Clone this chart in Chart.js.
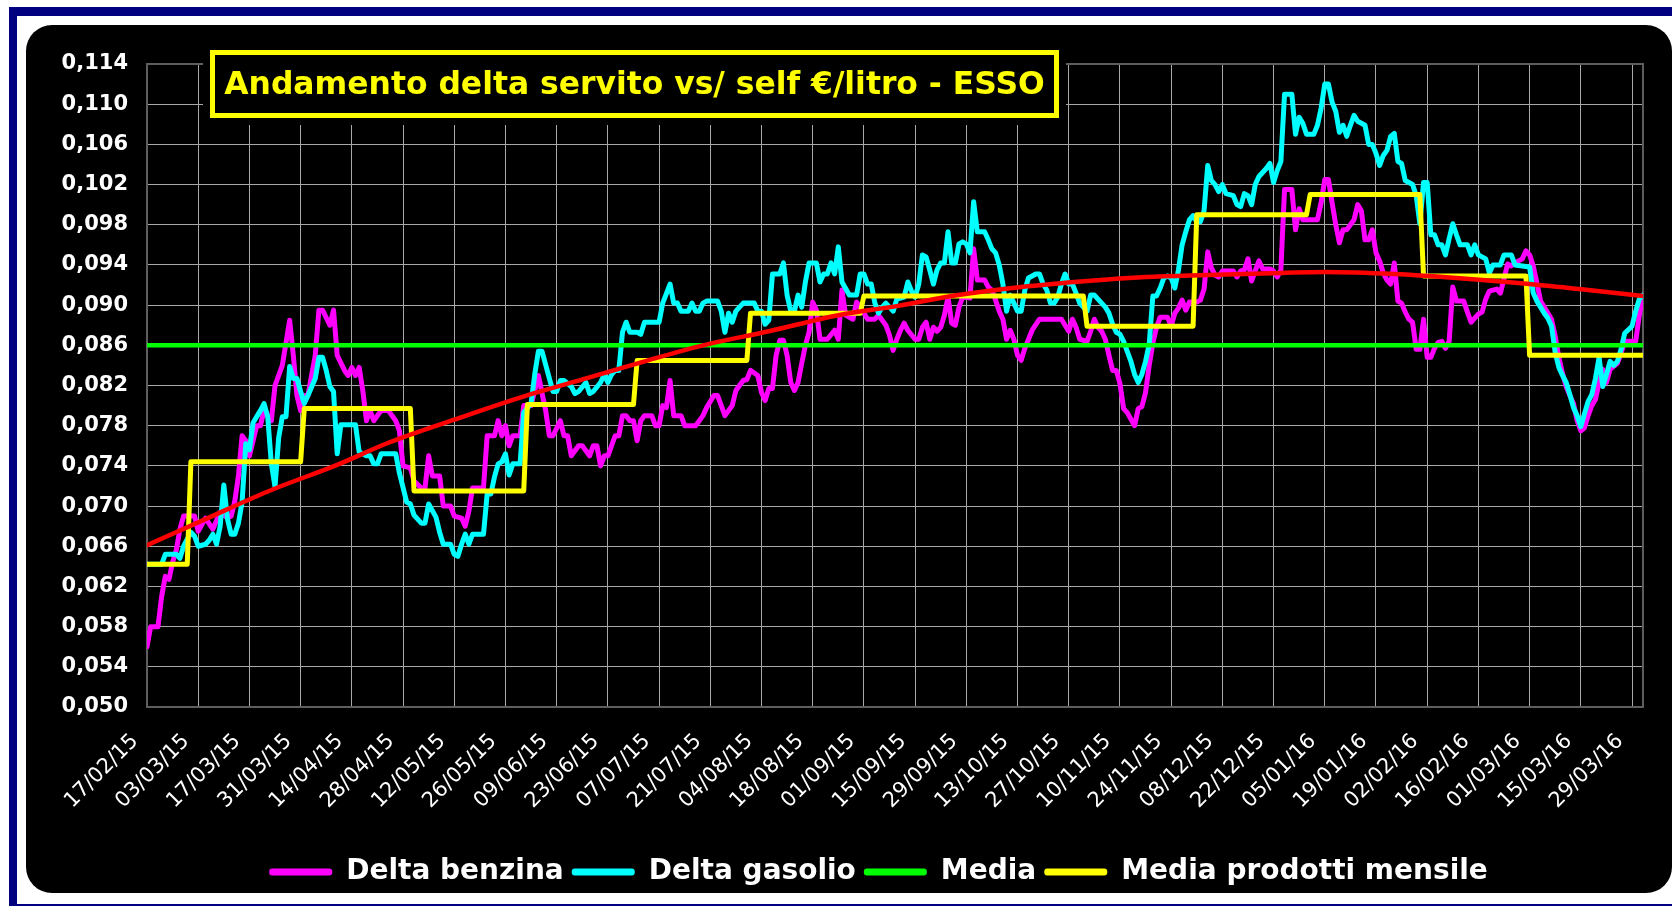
<!DOCTYPE html>
<html lang="it">
<head>
<meta charset="utf-8">
<title>Andamento delta servito vs/ self - ESSO</title>
<script src="https://cdn.jsdelivr.net/npm/chart.js@4.4.1/dist/chart.umd.min.js"></script>
<style>
  html, body { margin: 0; padding: 0; background: #ffffff; }
  body { width: 1672px; height: 906px; overflow: hidden; position: relative; }
  #cornice { position: absolute; left: 9px; top: 7px; width: 1720px; height: 905px; box-sizing: border-box; border: 8px solid #000080; border-top-width: 9px; }
  #scheda { position: absolute; left: 26px; top: 25px; width: 1646px; height: 868px; background: #000; border-radius: 26px; overflow: hidden; }
  #scheda canvas { display: block; }
</style>
</head>
<body>
<div id="cornice"></div>
<div id="scheda"><canvas id="graficoDelta" width="1646" height="868"></canvas></div>
<script>
const titolo = 'Andamento delta servito vs/ self €/litro - ESSO';

// giorni contati dal 17/02/15, un'etichetta ogni 14 giorni
const etichetteDate = [
    '17/02/15', '03/03/15', '17/03/15', '31/03/15', '14/04/15', '28/04/15', '12/05/15', '26/05/15',
    '09/06/15', '23/06/15', '07/07/15', '21/07/15', '04/08/15', '18/08/15', '01/09/15', '15/09/15',
    '29/09/15', '13/10/15', '27/10/15', '10/11/15', '24/11/15', '08/12/15', '22/12/15', '05/01/16',
    '19/01/16', '02/02/16', '16/02/16', '01/03/16', '15/03/16', '29/03/16'
];
const ultimoGiorno = 409;

// [giorno, €/litro]
const deltaBenzina = [
    [0,0.0560],[1,0.0580],[3,0.0580],[4,0.0610],[5,0.0630],[6,0.0627],[7,0.0644],[8,0.0656],[9,0.0677],[10,0.0690],
    [13,0.0690],[14,0.0675],[16,0.0688],[18,0.0677],[20,0.0694],[22,0.0688],[23,0.0690],[24,0.0705],[25,0.0730],[26,0.0770],
    [27,0.0765],[28,0.0750],[30,0.0780],[31,0.0780],[32,0.0795],[34,0.0785],[35,0.0820],[37,0.0840],[39,0.0885],[40,0.0850],
    [41,0.0810],[42,0.0795],[43,0.0810],[44,0.0810],[46,0.0850],[47,0.0895],[48,0.0895],[50,0.0880],[51,0.0895],[52,0.0850],
    [54,0.0835],[55,0.0830],[56,0.0838],[57,0.0830],[58,0.0838],[59,0.0815],[60,0.0785],[61,0.0795],[62,0.0785],[64,0.0795],
    [66,0.0795],[68,0.0785],[69,0.0775],[70,0.0740],[72,0.0738],[73,0.0725],[75,0.0718],[76,0.0718],[77,0.0750],[78,0.0730],
    [80,0.0730],[81,0.0700],[83,0.0700],[84,0.0690],[86,0.0688],[87,0.0680],[88,0.0695],[89,0.0718],[92,0.0718],[93,0.0770],
    [95,0.0770],[96,0.0785],[97,0.0770],[98,0.0780],[99,0.0760],[100,0.0770],[102,0.0770],[103,0.0800],[105,0.0800],[107,0.0830],
    [109,0.0795],[110,0.0770],[111,0.0770],[113,0.0785],[114,0.0770],[115,0.0770],[116,0.0750],[118,0.0760],[119,0.0760],[121,0.0750],
    [122,0.0760],[123,0.0760],[124,0.0740],[125,0.0750],[126,0.0750],[128,0.0770],[129,0.0770],[130,0.0790],[131,0.0790],[132,0.0785],
    [133,0.0785],[134,0.0765],[135,0.0785],[136,0.0790],[138,0.0790],[139,0.0780],[140,0.0780],[141,0.0800],[142,0.0798],[143,0.0825],
    [144,0.0790],[146,0.0790],[147,0.0780],[150,0.0780],[152,0.0790],[153,0.0798],[155,0.0810],[156,0.0810],[157,0.0800],[158,0.0790],
    [160,0.0800],[161,0.0815],[162,0.0820],[163,0.0825],[164,0.0826],[165,0.0835],[167,0.0830],[168,0.0813],[169,0.0805],[170,0.0817],
    [171,0.0817],[172,0.0850],[173,0.0865],[174,0.0865],[175,0.0850],[176,0.0823],[177,0.0815],[178,0.0823],[179,0.0842],[180,0.0860],
    [181,0.0873],[182,0.0903],[183,0.0895],[184,0.0866],[186,0.0866],[188,0.0875],[189,0.0866],[190,0.0915],[191,0.0890],[193,0.0886],
    [194,0.0903],[195,0.0898],[197,0.0886],[199,0.0886],[200,0.0890],[202,0.0880],[203,0.0870],[204,0.0855],[205,0.0866],[206,0.0875],
    [207,0.0882],[208,0.0875],[210,0.0866],[211,0.0866],[212,0.0878],[213,0.0883],[214,0.0866],[215,0.0878],[216,0.0874],[217,0.0878],
    [218,0.0890],[219,0.0908],[220,0.0882],[221,0.0880],[222,0.0898],[223,0.0908],[225,0.0907],[226,0.0956],[227,0.0925],[229,0.0925],
    [230,0.0918],[231,0.0915],[232,0.0905],[233,0.0894],[234,0.0886],[235,0.0866],[236,0.0875],[237,0.0866],[238,0.0850],[239,0.0845],
    [240,0.0857],[242,0.0875],[244,0.0886],[250,0.0886],[252,0.0874],[253,0.0886],[254,0.0878],[255,0.0866],[257,0.0864],[258,0.0874],
    [259,0.0886],[260,0.0878],[261,0.0874],[262,0.0866],[263,0.0850],[264,0.0835],[265,0.0835],[266,0.0822],[267,0.0797],[268,0.0793],
    [270,0.0780],[271,0.0797],[272,0.0799],[273,0.0813],[274,0.0840],[275,0.0862],[276,0.0878],[277,0.0888],[279,0.0888],[280,0.0879],
    [281,0.0892],[282,0.0897],[283,0.0905],[284,0.0895],[285,0.0903],[287,0.0903],[288,0.0905],[289,0.0916],[290,0.0953],[291,0.0937],
    [292,0.0930],[293,0.0928],[294,0.0934],[297,0.0934],[298,0.0928],[299,0.0934],[300,0.0935],[301,0.0946],[302,0.0924],[303,0.0934],
    [304,0.0944],[305,0.0936],[307,0.0936],[308,0.0934],[309,0.0928],[310,0.0935],[311,0.1015],[313,0.1015],[314,0.0975],[315,0.0996],
    [316,0.0985],[320,0.0985],[321,0.1002],[322,0.1025],[323,0.1025],[324,0.1002],[325,0.0980],[326,0.0962],[327,0.0975],[328,0.0975],
    [330,0.0985],[331,0.1000],[332,0.0994],[333,0.0965],[334,0.0965],[335,0.0975],[336,0.0952],[337,0.0944],[338,0.0932],[339,0.0925],
    [340,0.0921],[341,0.0942],[342,0.0904],[343,0.0902],[344,0.0893],[345,0.0886],[346,0.0883],[347,0.0856],[348,0.0856],[349,0.0886],
    [350,0.0848],[351,0.0848],[352,0.0857],[353,0.0863],[354,0.0864],[355,0.0857],[356,0.0864],[357,0.0918],[358,0.0904],[360,0.0904],
    [361,0.0893],[362,0.0883],[363,0.0887],[364,0.0891],[365,0.0893],[366,0.0906],[367,0.0914],[369,0.0916],[370,0.0912],[371,0.0926],
    [372,0.0941],[373,0.0939],[374,0.0942],[375,0.0944],[376,0.0946],[377,0.0954],[378,0.0950],[379,0.0939],[380,0.0922],[381,0.0904],
    [382,0.0898],[384,0.0886],[385,0.0869],[386,0.0848],[387,0.0832],[388,0.0819],[389,0.0810],[390,0.0802],[391,0.0785],[392,0.0775],
    [393,0.0778],[394,0.0790],[395,0.0800],[396,0.0806],[397,0.0823],[398,0.0836],[399,0.0823],[400,0.0836],[402,0.0842],[403,0.0852],
    [404,0.0864],[407,0.0864],[408,0.0890],[409,0.0910]
];

const deltaGasolio = [
    [0,0.0642],[4,0.0642],[5,0.0652],[8,0.0652],[9,0.0648],[10,0.0660],[12,0.0674],[13,0.0670],[14,0.0660],[16,0.0662],
    [17,0.0666],[18,0.0672],[19,0.0662],[20,0.0680],[21,0.0721],[22,0.0687],[23,0.0672],[24,0.0672],[25,0.0683],[26,0.0704],
    [27,0.0762],[28,0.0756],[29,0.0783],[30,0.0789],[31,0.0795],[32,0.0802],[33,0.0789],[34,0.0742],[35,0.0719],[36,0.0768],
    [37,0.0789],[38,0.0789],[39,0.0839],[40,0.0827],[41,0.0827],[42,0.0814],[43,0.0802],[44,0.0810],[46,0.0827],[47,0.0848],
    [48,0.0848],[49,0.0835],[50,0.0819],[51,0.0814],[52,0.0752],[53,0.0781],[57,0.0781],[58,0.0754],[60,0.0750],[61,0.0750],
    [62,0.0742],[63,0.0742],[64,0.0752],[68,0.0752],[69,0.0733],[71,0.0704],[72,0.0702],[73,0.0691],[75,0.0683],[76,0.0683],
    [77,0.0702],[79,0.0689],[80,0.0674],[81,0.0662],[83,0.0662],[84,0.0652],[85,0.0650],[86,0.0662],[87,0.0672],[88,0.0662],
    [89,0.0672],[92,0.0672],[93,0.0712],[94,0.0712],[95,0.0729],[96,0.0742],[97,0.0744],[98,0.0752],[99,0.0731],[100,0.0742],
    [102,0.0742],[103,0.0793],[105,0.0802],[106,0.0831],[107,0.0854],[108,0.0854],[110,0.0827],[111,0.0814],[112,0.0814],[113,0.0825],
    [114,0.0825],[116,0.0819],[117,0.0812],[118,0.0814],[120,0.0823],[121,0.0812],[122,0.0814],[124,0.0823],[125,0.0831],[126,0.0823],
    [127,0.0831],[128,0.0835],[129,0.0835],[130,0.0873],[131,0.0883],[132,0.0873],[134,0.0873],[135,0.0871],[136,0.0883],[140,0.0883],
    [141,0.0902],[143,0.0921],[144,0.0902],[145,0.0902],[146,0.0894],[148,0.0894],[149,0.0902],[150,0.0894],[151,0.0894],[152,0.0902],
    [153,0.0904],[156,0.0904],[157,0.0894],[158,0.0873],[159,0.0892],[160,0.0883],[161,0.0894],[163,0.0902],[166,0.0902],[167,0.0894],
    [168,0.0894],[169,0.0881],[170,0.0885],[171,0.0931],[173,0.0931],[174,0.0942],[175,0.0910],[176,0.0894],[177,0.0894],[178,0.0910],
    [179,0.0898],[180,0.0923],[181,0.0942],[183,0.0942],[184,0.0923],[185,0.0931],[186,0.0931],[187,0.0942],[188,0.0931],[189,0.0958],
    [190,0.0923],[192,0.0910],[194,0.0910],[195,0.0931],[196,0.0931],[197,0.0921],[198,0.0921],[199,0.0902],[200,0.0892],[201,0.0898],
    [202,0.0902],[203,0.0898],[204,0.0894],[205,0.0906],[207,0.0908],[208,0.0923],[209,0.0914],[210,0.0908],[211,0.0921],[212,0.0950],
    [213,0.0948],[214,0.0935],[215,0.0921],[216,0.0935],[217,0.0942],[218,0.0942],[219,0.0973],[220,0.0942],[221,0.0942],[222,0.0961],
    [223,0.0963],[224,0.0961],[225,0.0952],[226,0.1003],[227,0.0973],[229,0.0973],[230,0.0965],[231,0.0956],[232,0.0952],[233,0.0940],
    [234,0.0921],[235,0.0894],[236,0.0910],[237,0.0902],[238,0.0894],[239,0.0894],[240,0.0915],[241,0.0927],[243,0.0931],[244,0.0931],
    [245,0.0921],[246,0.0915],[247,0.0902],[248,0.0902],[249,0.0908],[250,0.0921],[251,0.0931],[252,0.0921],[253,0.0921],[254,0.0912],
    [255,0.0902],[256,0.0898],[257,0.0894],[258,0.0910],[259,0.0910],[260,0.0906],[261,0.0902],[262,0.0898],[263,0.0892],[264,0.0881],
    [265,0.0873],[266,0.0871],[267,0.0864],[268,0.0854],[269,0.0844],[270,0.0831],[271,0.0823],[272,0.0831],[273,0.0844],[274,0.0861],
    [275,0.0909],[276,0.0909],[277,0.0917],[278,0.0927],[279,0.0929],[280,0.0927],[281,0.0917],[282,0.0935],[283,0.0960],[284,0.0973],
    [285,0.0985],[286,0.0989],[287,0.0983],[288,0.0983],[289,0.0994],[290,0.1039],[291,0.1024],[292,0.1020],[293,0.1013],[294,0.1020],
    [295,0.1011],[297,0.1009],[298,0.1000],[299,0.0998],[300,0.1011],[301,0.1009],[302,0.1000],[303,0.1020],[304,0.1028],[305,0.1032],
    [306,0.1036],[307,0.1041],[308,0.1022],[309,0.1034],[310,0.1043],[311,0.1110],[313,0.1110],[314,0.1070],[315,0.1087],[316,0.1081],
    [317,0.1070],[319,0.1070],[320,0.1079],[321,0.1096],[322,0.1120],[323,0.1120],[324,0.1102],[325,0.1093],[326,0.1072],[327,0.1079],
    [328,0.1068],[329,0.1079],[330,0.1089],[331,0.1083],[333,0.1079],[334,0.1060],[335,0.1060],[336,0.1051],[337,0.1039],[338,0.1049],
    [339,0.1054],[340,0.1068],[341,0.1071],[342,0.1043],[343,0.1041],[344,0.1024],[346,0.1020],[347,0.1009],[348,0.0981],[349,0.1022],
    [350,0.1022],[351,0.0970],[352,0.0970],[353,0.0960],[354,0.0960],[355,0.0950],[356,0.0966],[357,0.0981],[358,0.0970],[359,0.0960],
    [361,0.0960],[362,0.0950],[363,0.0960],[364,0.0950],[366,0.0946],[367,0.0932],[368,0.0940],[370,0.0940],[371,0.0950],[373,0.0950],
    [374,0.0940],[378,0.0938],[379,0.0912],[380,0.0904],[382,0.0892],[383,0.0887],[384,0.0879],[385,0.0853],[386,0.0838],[387,0.0830],
    [388,0.0823],[389,0.0811],[390,0.0798],[391,0.0790],[392,0.0779],[393,0.0792],[394,0.0804],[395,0.0811],[396,0.0827],[397,0.0848],
    [398,0.0819],[399,0.0831],[400,0.0844],[401,0.0840],[402,0.0844],[403,0.0856],[404,0.0872],[406,0.0879],[407,0.0894],[408,0.0906],
    [409,0.0910]
];

const media = 0.086;

// media dei due prodotti, per mese
const inizioMese = [0, 12, 43, 73, 104, 134, 165, 196, 226, 257, 287, 318, 349, 378];
const mediaMensile = [0.0642, 0.0744, 0.0797, 0.0715, 0.0801, 0.0845, 0.0892, 0.0909, 0.0909, 0.0879, 0.0990, 0.1010, 0.0929, 0.0850];

// linea di tendenza (polinomiale)
const tendenza = [
    [0,0.0661],[16,0.0687],[34,0.0716],[52,0.0741],[66,0.0763],[84,0.0786],[102,0.0808],[121,0.0828],[137,0.0845],
    [152,0.0860],[170,0.0874],[189,0.0890],[205,0.0899],[220,0.0909],[239,0.0918],[257,0.0924],[273,0.0928],[290,0.0930],
    [310,0.0932],[322,0.0933],[341,0.0931],[358,0.0927],[378,0.0921],[394,0.0915],[409,0.0909]
];

const puntiMensili = [];
mediaMensile.forEach((v, i) => {
    const fine = i < inizioMese.length - 1 ? inizioMese[i + 1] - 1 : ultimoGiorno;
    puntiMensili.push([inizioMese[i], v], [fine, v]);
});

Chart.defaults.font.family = "'DejaVu Sans', Verdana, sans-serif";
Chart.defaults.color = '#ffffff';

// legenda spostata come nell'originale
const posLegenda = {
    id: 'posLegenda',
    afterLayout(chart) {
        const leg = chart.legend;
        leg.left += 41;
        leg.right += 41;
        leg.top = chart.height - 43;
        leg.bottom = chart.height + 3;
    }
};

// bordo dell'area e riquadro del titolo
const riquadro = {
    id: 'riquadro',
    beforeDatasetsDraw(chart) {
        const { ctx, chartArea } = chart;
        ctx.save();
        ctx.strokeStyle = '#5e5e5e';
        ctx.lineWidth = 2;
        ctx.strokeRect(chartArea.left, chartArea.top, chartArea.right - chartArea.left, chartArea.bottom - chartArea.top);

        const x = chartArea.left + 63;
        const y = chartArea.top - 14;
        const w = 849;
        const h = 68;
        ctx.fillStyle = '#000000';
        ctx.fillRect(x - 7, y - 7, w + 14, h + 14);
        ctx.strokeStyle = '#ffff00';
        ctx.lineWidth = 5;
        ctx.strokeRect(x + 2.5, y + 2.5, w - 5, h - 5);
        ctx.fillStyle = '#ffff00';
        ctx.font = "bold 31.4px 'DejaVu Sans', Verdana, sans-serif";
        ctx.textAlign = 'center';
        ctx.textBaseline = 'middle';
        ctx.fillText(titolo, x + w / 2, y + h / 2 + 2);
        ctx.restore();
    }
};

const ctx = document.getElementById('graficoDelta').getContext('2d');

const grafico = new Chart(ctx, {
    type: 'line',
    data: {
        datasets: [
            { label: 'Delta benzina', data: deltaBenzina, borderColor: '#ff00ff', backgroundColor: '#ff00ff', borderWidth: 5, order: 5 },
            { label: 'Delta gasolio', data: deltaGasolio, borderColor: '#00ffff', backgroundColor: '#00ffff', borderWidth: 5, order: 4 },
            { label: 'Media', data: [[0, media], [ultimoGiorno, media]], borderColor: '#00ff00', backgroundColor: '#00ff00', borderWidth: 4.5, order: 3 },
            { label: 'Media prodotti mensile', data: puntiMensili, borderColor: '#ffff00', backgroundColor: '#ffff00', borderWidth: 5, order: 2 },
            { label: 'Tendenza', data: tendenza, borderColor: '#ff0000', backgroundColor: '#ff0000', borderWidth: 4.5, order: 1, cubicInterpolationMode: 'monotone' }
        ]
    },
    options: {
        responsive: false,
        animation: false,
        devicePixelRatio: 1,
        layout: { padding: { left: 0, right: 23, top: 39, bottom: 0 } },
        elements: {
            point: { radius: 0, hoverRadius: 0 },
            line: { tension: 0, borderJoinStyle: 'round', borderCapStyle: 'round' }
        },
        scales: {
            x: {
                type: 'linear',
                min: 0,
                max: ultimoGiorno,
                afterFit: (scale) => { scale.height = 140; },
                grid: { color: '#a8a8a8', lineWidth: 1, drawTicks: false },
                border: { display: false },
                ticks: {
                    stepSize: 14,
                    maxTicksLimit: 40,
                    includeBounds: false,
                    autoSkip: false,
                    minRotation: 45,
                    maxRotation: 45,
                    padding: 22,
                    labelOffset: -12,
                    color: '#ffffff',
                    font: { size: 21 },
                    callback: (value, index) => etichetteDate[index] ?? ''
                }
            },
            y: {
                min: 0.05,
                max: 0.114,
                afterFit: (scale) => { scale.width = 121; },
                grid: { color: '#a8a8a8', lineWidth: 1, drawTicks: false },
                border: { display: false },
                ticks: {
                    stepSize: 0.004,
                    maxTicksLimit: 20,
                    padding: 19,
                    color: '#ffffff',
                    font: { size: 21, weight: 'bold' },
                    callback: (value) => value.toFixed(3).replace('.', ',')
                }
            }
        },
        plugins: {
            legend: {
                position: 'bottom',
                labels: {
                    boxWidth: 63,
                    boxHeight: 7,
                    padding: 8,
                    color: '#ffffff',
                    font: { size: 28, weight: 'bold' },
                    generateLabels: (chart) => chart.data.datasets.slice(0, 4).map((ds, i) => ({
                        text: ds.label,
                        fillStyle: ds.borderColor,
                        strokeStyle: ds.borderColor,
                        lineWidth: 0,
                        borderRadius: 3,
                        fontColor: '#ffffff',
                        hidden: false,
                        datasetIndex: i
                    }))
                }
            },
            tooltip: { enabled: false }
        }
    },
    plugins: [posLegenda, riquadro]
});
</script>
</body>
</html>
